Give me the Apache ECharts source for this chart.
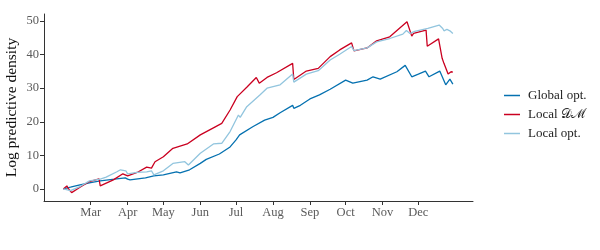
<!DOCTYPE html>
<html>
<head>
<meta charset="utf-8">
<script src="https://cdn.jsdelivr.net/npm/echarts@6/dist/echarts.min.js"></script>
<style>html,body{margin:0;padding:0;background:#fff;}#c{width:600px;height:250px;}</style>
</head>
<body>
<div id="c"></div>
<script>
// day-of-year (2020, Jan 1 = 0) and log predictive density
var monthStarts = [60, 91, 121, 152, 182, 213, 244, 274, 305, 335];
var monthLabels = ['Mar', 'Apr', 'May', 'Jun', 'Jul', 'Aug', 'Sep', 'Oct', 'Nov', 'Dec'];
var yTicks = [0, 10, 20, 30, 40, 50];

var globalOpt = [[37,0],[43,0.5],[51,1.2],[60,1.9],[68,2.4],[80,2.9],[89,3.3],[91,2.9],[93,2.7],[106,3.3],[113,3.9],[114,3.4],[121,4.2],[132,5.1],[135,4.8],[143,5.7],[152,7.6],[157,8.8],[168,10.4],[177,12.5],[182,14.6],[185,16.1],[196,18.5],[206,20.5],[213,21.3],[219,22.7],[229.5,24.9],[230.5,24],[236,24.9],[244,26.8],[252,28],[261,29.7],[274,32.4],[280,31.5],[292,32.4],[297,33.4],[303,32.7],[317,34.9],[324,36.8],[329.5,33.4],[335,34.2],[341,35.1],[344,33.4],[353,35.1],[358,31],[361.5,32.7],[364,31.2]];

var localDM = [[37,0],[40,0.9],[41,0.2],[44,-1.1],[51,0.5],[59,2.2],[67,3.0],[68,0.9],[79,2.7],[87,4.5],[91,3.9],[99,4.9],[107,6.5],[111,6.2],[114,8.1],[121,9.6],[129,12.1],[141,13.4],[152,16.1],[163,18.2],[170,19.5],[177,23.5],[183,27.5],[191,30.3],[199,33.2],[201.5,31.5],[208,33.2],[216,34.6],[229.5,37.4],[230.5,32.6],[241,35.1],[251,35.9],[261,39.4],[269,41.4],[279,43.5],[281,41.1],[292,42],[300,44.1],[311,45.3],[325.5,49.8],[329.5,45.5],[331,46.3],[341.5,47.3],[342.5,42.5],[352,44.7],[355,38.9],[356.5,37.4],[358,37.9],[360,34.2],[362.5,34.9],[364,34.8]];

var localOpt = [[37,0],[43,-0.5],[51,0.7],[59,2.4],[68,2.9],[73,3.5],[82,5.1],[85,5.7],[89.5,5.4],[91,4.5],[99,4.9],[107,5.1],[111,5.4],[113,4.2],[121,5.4],[129,7.6],[139,8.1],[142,7.1],[152,10.6],[163,13.4],[170,13.6],[177,17.1],[184,22],[185.5,21.3],[191,24.5],[202,28],[208,30],[219,31],[229.5,34.2],[230.5,31.8],[241,34.2],[251,35.2],[261,38.4],[269,40.1],[279,42.4],[281,41.2],[292,42],[300,43.8],[311,44.8],[322,46.1],[325,47.2],[328,46.3],[332,46.9],[343,47.8],[352.5,48.8],[355.5,47.8],[356.5,47.1],[359,47.5],[361.5,47.1],[364,46.3]];

var seriesNames = ['Global opt.', 'Local \uD835\uDC9F\u2133', 'Local opt.'];
var seriesColors = ['#0571b0', '#ca0020', '#92c5de'];
var seriesData = [globalOpt, localDM, localOpt];

var font = 'Liberation Serif';
var chart = echarts.init(document.getElementById('c'), null, {renderer: 'canvas'});
chart.setOption({
  animation: false,
  backgroundColor: '#fff',
  grid: {left: 44, right: 127, top: 14, bottom: 49, containLabel: false, outerBoundsMode: 'none'},
  xAxis: {
    type: 'value', min: 20.8, max: 380.9,
    splitLine: {show: false},
    axisLine: {show: true, onZero: false, lineStyle: {color: '#333', width: 1}},
    axisTick: {show: true, customValues: monthStarts, length: 4, lineStyle: {color: '#333'}},
    axisLabel: {
      customValues: monthStarts, color: '#5a5a5a', fontFamily: font, fontSize: 12.5, margin: 5,
      formatter: function (v) { var i = monthStarts.indexOf(Math.round(v)); return i >= 0 ? monthLabels[i] : ''; }
    }
  },
  yAxis: {
    type: 'value', min: -3.6, max: 52.1,
    name: 'Log predictive density', nameLocation: 'middle', nameGap: 24, nameMoveOverlap: false,
    nameTextStyle: {fontFamily: font, fontSize: 15.5, color: '#111'},
    splitLine: {show: false},
    axisLine: {show: true, lineStyle: {color: '#333', width: 1}},
    axisTick: {show: true, customValues: yTicks, length: 4, lineStyle: {color: '#333'}},
    axisLabel: {customValues: yTicks, color: '#5a5a5a', fontFamily: font, fontSize: 12.5, margin: 5}
  },
  legend: {
    orient: 'vertical', left: 499, top: 84,
    icon: 'rect', itemWidth: 16, itemHeight: 1.5, itemGap: 6,
    textStyle: {fontFamily: font, fontSize: 13, color: '#222', padding: [0, 0, 0, 3]},
    data: seriesNames
  },
  series: seriesData.map(function (d, i) {
    return {
      name: seriesNames[i], type: 'line', data: d, showSymbol: false,
      lineStyle: {color: seriesColors[i], width: 1.3}, itemStyle: {color: seriesColors[i]}
    };
  })
});
</script>
</body>
</html>
